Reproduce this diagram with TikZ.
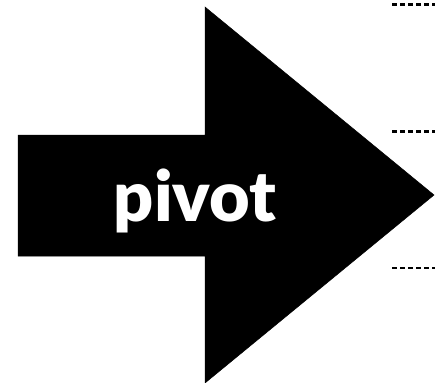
\documentclass[tikz,border=0pt]{standalone}
\usepackage{fontspec}
\setmainfont{Lato}
\newfontfamily\heavyfont{Lato Black}
\begin{document}
\begin{tikzpicture}[x=1pt,y=-1pt,
  arrowbody/.style={fill=black,draw=black,line width=0.5pt},
  label/.style={text=white,font=\fontsize{70}{70}\selectfont\heavyfont,inner sep=0pt,anchor=base},
  dashline/.style={line width=2.2pt,dash pattern=on 5pt off 3pt}]
\useasboundingbox (0,0) rectangle (435,382);
\filldraw[arrowbody] (18,135) -- (205,135) -- (205,7) -- (434,195) -- (205,383) -- (205,256) -- (18,256) -- cycle;
\node[label] (piv) at (195,221) {pivot};
\coordinate (d1a) at (392,4.5); \coordinate (d1b) at (435,4.5);
\coordinate (d2a) at (392,131.5); \coordinate (d2b) at (435,131.5);
\coordinate (d3a) at (392,268); \coordinate (d3b) at (435,268);
\draw[dashline] (d1a) -- (d1b);
\draw[dashline] (d2a) -- (d2b);
\draw[dashline] (d3a) -- (d3b);
\end{tikzpicture}
\end{document}
